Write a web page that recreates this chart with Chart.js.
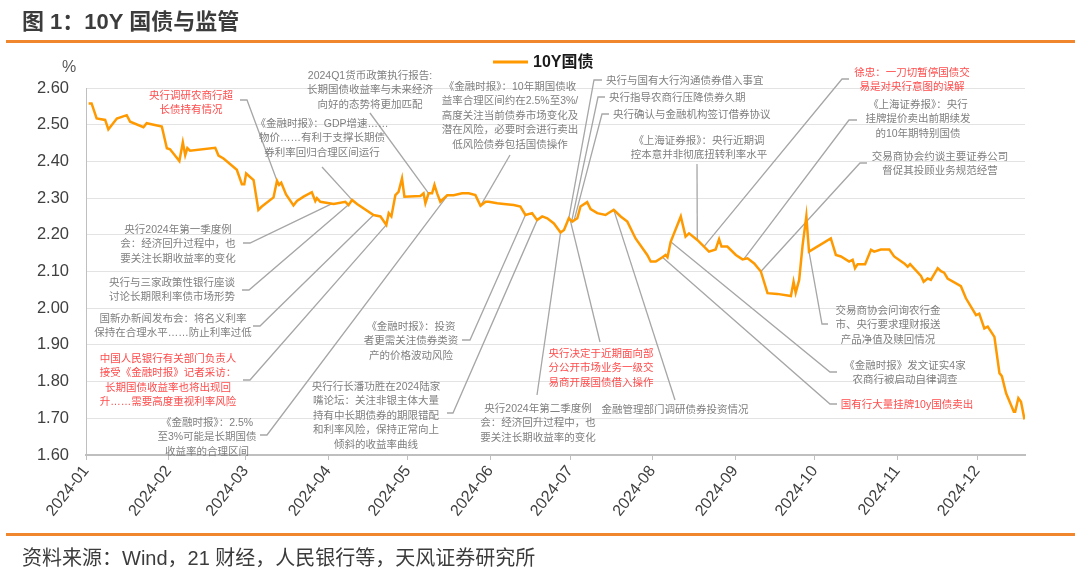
<!DOCTYPE html>
<html>
<head>
<meta charset="utf-8">
<script src="https://cdn.jsdelivr.net/npm/chart.js@4.4.1/dist/chart.umd.min.js"></script>
<style>
html, body { margin: 0; padding: 0; background: #fff; }
#wrap { position: relative; width: 1080px; height: 572px; overflow: hidden;
        font-family: "Liberation Sans", "Noto Sans CJK SC", sans-serif; }
#wrap canvas { position: absolute; left: 0; top: 0; }
.title { position: absolute; left: 22px; top: 3px; font-size: 22px; font-weight: bold; color: #3c3c3c; }
.rule { position: absolute; left: 6px; width: 1069px; height: 3px; background: #f0862e; }
.source { position: absolute; left: 22px; top: 542px; font-size: 20px; color: #3c3c3c; }
.unit { position: absolute; left: 62px; top: 58px; font-size: 16px; color: #595959; }
.note { position: absolute; font-size: 10.5px; line-height: 14.5px; color: #7f7f7f;
        white-space: nowrap; text-align: center; transform: translateX(-50%); }
.note.red { color: #ff4b4b; }
.note.left { transform: none; text-align: left; }
</style>
</head>
<body>
<div id="wrap">
  <canvas id="myChart" width="1080" height="572"></canvas>
  <div class="title">图 1：10Y 国债与监管</div>
  <div class="rule" style="top:40px"></div>
  <div class="unit">%</div>
  <div class="rule" style="top:533px"></div>
  <div class="source">资料来源：Wind，21 财经，人民银行等，天风证券研究所</div>
</div>
<script>
// day of year (0 = 1 Jan 2024) and 10Y yield
const dayOfYear = [1, 2.1, 4, 7.2, 8.4, 9.7, 11.6, 15.3, 16.6, 21.6, 22.8, 28.5, 30.4, 31.6, 35.1, 36.4, 37.3, 38.1, 39.1,
    48.6, 49.8, 51.7, 56.7, 58.6, 59.5, 60.2, 63.0, 64.8, 66.1, 70.5, 71.8, 72.6, 73.4, 75.2, 78.0, 79.3, 81.8, 84.9,
    86.2, 86.8, 88.1, 93.1, 97.5, 98.7, 100.0, 101.9, 108.1, 110.7, 112.9, 113.8, 114.8, 116.3, 117.5, 118.8, 119.7,
    125.7, 126.9, 127.6, 128.8, 130.1, 131.0, 132.0, 133.2, 135.8, 138.2, 141.4, 143.9, 146.4, 148.3, 150.2, 151.4,
    154.6, 157.1, 160.8, 163.3, 165.2, 167.7, 169.6, 171.5, 173.4, 175.9, 178.4, 179.7, 181.5, 182.8, 184.7, 185.9,
    188.4, 189.7, 192.2, 195.3, 196.6, 198.4, 201.0, 203.5, 206.6, 211.0, 212.3, 214.2, 216.7, 217.9, 218.6, 219.8,
    223.6, 225.4, 226.7, 229.8, 234.2, 236.7, 238.0, 238.9, 241.1, 244.3, 246.8, 248.7, 251.2, 253.7, 256.2, 259.9,
    265.0, 266.0, 266.8, 268.1, 269.4, 270.8, 271.8, 280.0, 281.9, 283.8, 286.9, 288.2, 289.1, 290.1, 292.9, 295.1,
    296.3, 298.8, 302.0, 303.8, 307.6, 308.9, 309.8, 313.9, 314.9, 316.4, 317.6, 320.2, 321.4, 322.6, 323.9, 328.9,
    330.8, 334.6, 335.8, 337.7, 339.0, 341.5, 343.4, 344.3, 345.9, 348.8, 349.3, 350.5, 351.5, 352.8];

const yield10y = [2.558, 2.558, 2.517, 2.513, 2.487, 2.499, 2.517, 2.526, 2.508, 2.493, 2.504, 2.495, 2.436, 2.433, 2.401, 2.452, 2.417, 2.436, 2.429,
    2.437, 2.416, 2.408, 2.377, 2.338, 2.338, 2.367, 2.349, 2.268, 2.277, 2.302, 2.347, 2.336, 2.342, 2.310, 2.280, 2.292, 2.304, 2.316,
    2.292, 2.300, 2.290, 2.284, 2.290, 2.281, 2.295, 2.284, 2.254, 2.250, 2.227, 2.259, 2.250, 2.308, 2.317, 2.354, 2.304,
    2.306, 2.313, 2.286, 2.313, 2.313, 2.336, 2.313, 2.290, 2.308, 2.308, 2.313, 2.313, 2.308, 2.279, 2.290, 2.290,
    2.286, 2.284, 2.281, 2.277, 2.254, 2.259, 2.240, 2.250, 2.245, 2.231, 2.206, 2.213, 2.245, 2.236, 2.245, 2.277,
    2.289, 2.270, 2.259, 2.254, 2.260, 2.268, 2.250, 2.236, 2.190, 2.145, 2.127, 2.127, 2.139, 2.145, 2.139, 2.181,
    2.250, 2.195, 2.204, 2.186, 2.154, 2.160, 2.188, 2.168, 2.168, 2.145, 2.133, 2.136, 2.122, 2.100, 2.041, 2.039,
    2.033, 2.072, 2.042, 2.077, 2.172, 2.251, 2.154, 2.190, 2.145, 2.141, 2.127, 2.132, 2.109, 2.120, 2.120, 2.159,
    2.154, 2.160, 2.160, 2.141, 2.122, 2.113, 2.120, 2.088, 2.072, 2.081, 2.077, 2.109, 2.101, 2.097, 2.081, 2.060,
    2.027, 1.981, 1.985, 1.945, 1.950, 1.922, 1.823, 1.815, 1.768, 1.718, 1.718, 1.755, 1.745, 1.697];

const monthStart = [0, 31, 60, 91, 121, 152, 182, 213, 244, 274, 305, 335];
const monthLabels = ['2024-01', '2024-02', '2024-03', '2024-04', '2024-05', '2024-06',
    '2024-07', '2024-08', '2024-09', '2024-10', '2024-11', '2024-12'];

// annotations: text lines, box centre x / first line y, leader start (+elbow), day the leader points at
const notes = [
    {lines: ['央行调研农商行超', '长债持有情况'], red: true, x: 191, y: 95, path: [[240, 100], [247, 100]], day: 71.8},
    {lines: ['《金融时报》：GDP增速……', '物价……有利于支撑长期债', '券利率回归合理区间运行'], x: 322, y: 123, path: [[322, 167]], day: 100},
    {lines: ['2024Q1货币政策执行报告:', '长期国债收益率与未来经济', '向好的态势将更加匹配'], x: 370, y: 75, path: [[370, 113]], day: 128.8},
    {lines: ['《金融时报》：10年期国债收', '益率合理区间约在2.5%至3%/', '高度关注当前债券市场变化及', '潜在风险，必要时会进行卖出', '低风险债券包括国债操作'], x: 510, y: 86, path: [[510, 155]], day: 148.3},
    {lines: ['央行与国有大行沟通债券借入事宜'], left: true, x: 606, y: 80, path: [[602, 80], [594, 80]], day: 181.5},
    {lines: ['央行指导农商行压降债券久期'], left: true, x: 609, y: 97, path: [[605, 97], [598, 97]], day: 182.6},
    {lines: ['央行确认与金融机构签订借券协议'], left: true, x: 613, y: 114, path: [[609, 114], [602, 114]], day: 183.5},
    {lines: ['《上海证券报》：央行近期调', '控本意并非彻底扭转利率水平'], x: 699, y: 140, path: [[697, 164]], day: 229.8},
    {lines: ['徐忠：一刀切暂停国债交', '易是对央行意图的误解'], red: true, x: 912, y: 72, path: [[849, 79], [842, 79]], day: 232.3},
    {lines: ['《上海证券报》：央行', '挂牌提价卖出前期续发', '的10年期特别国债'], x: 918, y: 104, path: [[857, 120], [849, 120]], day: 247.3},
    {lines: ['交易商协会约谈主要证券公司', '督促其投顾业务规范经营'], x: 940, y: 156, path: [[867, 163], [860, 163]], day: 253.7},
    {lines: ['央行2024年第一季度例', '会：经济回升过程中，也', '要关注长期收益率的变化'], x: 178, y: 229, path: [[243, 243], [250, 243]], day: 92.5},
    {lines: ['央行与三家政策性银行座谈', '讨论长期限利率债市场形势'], x: 172, y: 282, path: [[242, 290], [249, 290]], day: 99},
    {lines: ['国新办新闻发布会：将名义利率', '保持在合理水平……防止利率过低'], x: 173, y: 318, path: [[253, 326], [260, 326]], day: 108.1},
    {lines: ['中国人民银行有关部门负责人', '接受《金融时报》记者采访：', '长期国债收益率也将出现回', '升……需要高度重视利率风险'], red: true, x: 168, y: 358, path: [[243, 380], [250, 380]], day: 112.9},
    {lines: ['《金融时报》：2.5%', '至3%可能是长期国债', '收益率的合理区间'], x: 207, y: 422, path: [[260, 435], [267, 435]], day: 136},
    {lines: ['《金融时报》：投资', '者更需关注债券类资', '产的价格波动风险'], x: 411, y: 326, path: [[462, 340], [470, 340]], day: 165.2},
    {lines: ['央行行长潘功胜在2024陆家', '嘴论坛：关注非银主体大量', '持有中长期债券的期限错配', '和利率风险，保持正常向上', '倾斜的收益率曲线'], x: 376, y: 386, path: [[447, 413], [453, 413]], day: 169.6},
    {lines: ['央行2024年第二季度例', '会：经济回升过程中，也', '要关注长期收益率的变化'], x: 538, y: 408, path: [[537, 395]], day: 178.4},
    {lines: ['央行决定于近期面向部', '分公开市场业务一级交', '易商开展国债借入操作'], red: true, x: 601, y: 353, path: [[600, 342]], day: 182},
    {lines: ['金融管理部门调研债券投资情况'], x: 675, y: 409, path: [[675, 400]], day: 198.4},
    {lines: ['交易商协会问询农行金', '市、央行要求理财报送', '产品净值及赎回情况'], x: 888, y: 310, path: [[828, 324], [822, 324]], day: 271.8},
    {lines: ['《金融时报》发文证实4家', '农商行被启动自律调查'], x: 905, y: 365, path: [[837, 372], [830, 372]], day: 219.8},
    {lines: ['国有行大量挂牌10y国债卖出'], red: true, x: 907, y: 404, path: [[837, 404], [830, 404]], day: 216.7}
];

function valueAt(day) {
    for (let i = 1; i < dayOfYear.length; i++) {
        if (day <= dayOfYear[i]) {
            const t = (day - dayOfYear[i - 1]) / (dayOfYear[i] - dayOfYear[i - 1]);
            return yield10y[i - 1] + t * (yield10y[i] - yield10y[i - 1]);
        }
    }
    return yield10y[yield10y.length - 1];
}

const wrap = document.getElementById('wrap');
notes.forEach(n => {
    const d = document.createElement('div');
    d.className = 'note' + (n.red ? ' red' : '') + (n.left ? ' left' : '');
    d.style.left = n.x + 'px';
    d.style.top = (n.y - 7.25) + 'px';
    d.innerHTML = n.lines.join('<br>');
    wrap.appendChild(d);
});

const leaders = {
    id: 'leaders',
    beforeDatasetsDraw(chart) {
        const {ctx, scales: {x, y}} = chart;
        ctx.save();
        ctx.strokeStyle = '#a6a6a6';
        ctx.lineWidth = 1.3;
        notes.forEach(n => {
            ctx.beginPath();
            ctx.moveTo(n.path[0][0], n.path[0][1]);
            n.path.slice(1).forEach(p => ctx.lineTo(p[0], p[1]));
            ctx.lineTo(x.getPixelForValue(n.day), y.getPixelForValue(valueAt(n.day)));
            ctx.stroke();
        });
        ctx.restore();
    }
};

const legendMark = {
    id: 'legendMark',
    afterDraw(chart) {
        const ctx = chart.ctx;
        const ds = chart.data.datasets[0];
        ctx.save();
        ctx.strokeStyle = ds.borderColor;
        ctx.lineWidth = 3;
        ctx.beginPath();
        ctx.moveTo(493, 62);
        ctx.lineTo(528, 62);
        ctx.stroke();
        ctx.fillStyle = '#1a1a1a';
        ctx.font = 'bold 16px "Liberation Sans", "Noto Sans CJK SC"';
        ctx.textBaseline = 'middle';
        ctx.fillText(ds.label, 533, 63);
        ctx.restore();
    }
};

const myChart = new Chart(document.getElementById('myChart'), {
    type: 'line',
    data: {
        datasets: [{
            label: '10Y国债',
            data: dayOfYear.map((d, i) => ({x: d, y: yield10y[i]})),
            borderColor: '#ff9900',
            borderWidth: 2.5,
            pointRadius: 0,
            tension: 0,
            fill: false
        }]
    },
    options: {
        responsive: false,
        animation: false,
        devicePixelRatio: 1,
        layout: {padding: {top: 88, right: 55, left: 0, bottom: 0}},
        plugins: {legend: {display: false}, tooltip: {enabled: false}},
        scales: {
            x: {
                type: 'linear',
                min: 0,
                max: 353,
                afterBuildTicks: s => { s.ticks = monthStart.map(v => ({value: v})); },
                afterFit: s => { s.height = 117; },
                ticks: {
                    autoSkip: false,
                    minRotation: 52,
                    maxRotation: 52,
                    padding: 2,
                    color: '#404040',
                    font: {family: '"Liberation Sans", Arial', size: 16},
                    callback: (v, i) => monthLabels[i]
                },
                grid: {drawOnChartArea: false, drawTicks: true, tickLength: 5, color: '#bfbfbf'},
                border: {color: '#bfbfbf', width: 2}
            },
            y: {
                min: 1.6,
                max: 2.6,
                afterFit: s => { s.width = 86; },
                ticks: {
                    stepSize: 0.1,
                    padding: 17,
                    color: '#404040',
                    font: {family: '"Liberation Sans", Arial', size: 16.5},
                    callback: v => v.toFixed(2)
                },
                grid: {color: '#e3e3e3', drawTicks: false},
                border: {color: '#bfbfbf', width: 1}
            }
        }
    },
    plugins: [leaders, legendMark]
});
</script>
</body>
</html>
